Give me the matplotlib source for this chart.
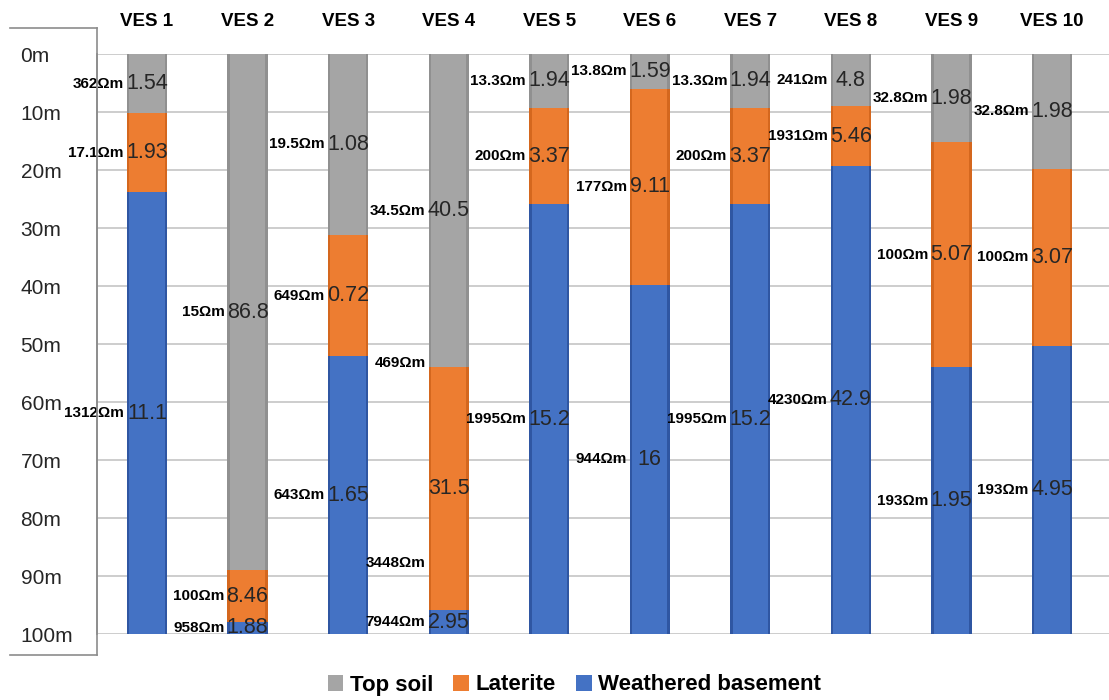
import matplotlib.pyplot as plt
from matplotlib.patches import Patch
from matplotlib.lines import Line2D
import numpy as np

plt.rcParams['font.family'] = ['Liberation Sans', 'DejaVu Sans']

# VES soundings, layer thickness in metres as drawn (top soil, laterite, weathered basement)
stations = ['VES 1', 'VES 2', 'VES 3', 'VES 4', 'VES 5', 'VES 6', 'VES 7', 'VES 8', 'VES 9', 'VES 10']
top_soil = [10.2, 89.0, 31.2, 54.0, 9.3, 6.0, 9.3, 9.0, 15.2, 19.8]
laterite = [13.6, 8.9, 20.9, 41.9, 16.6, 33.8, 16.6, 10.3, 38.8, 30.5]
basement = [76.2, 2.1, 47.9, 4.1, 74.1, 60.2, 74.1, 80.7, 46.0, 49.7]

# resistivity / thickness annotations for each layer
top_res = ['362Ωm', '15Ωm', '19.5Ωm', '34.5Ωm', '13.3Ωm', '13.8Ωm', '13.3Ωm', '241Ωm', '32.8Ωm', '32.8Ωm']
top_thk = ['1.54', '86.8', '1.08', '40.5', '1.94', '1.59', '1.94', '4.8', '1.98', '1.98']
lat_res = ['17.1Ωm', '100Ωm', '649Ωm', '469Ωm', '200Ωm', '177Ωm', '200Ωm', '1931Ωm', '100Ωm', '100Ωm']
lat_thk = ['1.93', '8.46', '0.72', '31.5', '3.37', '9.11', '3.37', '5.46', '5.07', '3.07']
base_res = ['1312Ωm', '958Ωm', '643Ωm', '7944Ωm', '1995Ωm', '944Ωm', '1995Ωm', '4230Ωm', '193Ωm', '193Ωm']
base_thk = ['11.1', '1.88', '1.65', '2.95', '15.2', '16', '15.2', '42.9', '1.95', '4.95']

depth_ticks = list(range(0, 101, 10))

# a couple of labels that sit away from the layer middle
res_depth_override = {('Laterite', 3): 53.3}
extra_res = [(3, 87.8, '3448Ωm')]

colors = {'Top soil': '#a5a5a5', 'Laterite': '#ed7d31', 'Weathered basement': '#4472c4'}
edges = {'Top soil': '#7f7f7f', 'Laterite': '#c0560f', 'Weathered basement': '#1f3f86'}

fig = plt.figure(figsize=(11.09, 7.0), dpi=100)
ax = fig.add_axes([97 / 1109, 66 / 700, 1 - 97 / 1109, 580 / 700])

x = np.arange(len(stations))
w = 0.40
layers = [('Top soil', top_soil, top_res, top_thk),
          ('Laterite', laterite, lat_res, lat_thk),
          ('Weathered basement', basement, base_res, base_thk)]

bottom = np.zeros(len(stations))
for name, vals, res, thk in layers:
    vals = np.array(vals)
    ax.bar(x, vals, w, bottom=bottom, color=colors[name], linewidth=0, zorder=3)
    # darker side edges give the bars a bevelled look
    for side in (-1, 1):
        ax.bar(x + side * (w / 2 - 0.012), vals, 0.024, bottom=bottom,
               color=edges[name], alpha=0.55, linewidth=0, zorder=4)
    mids = bottom + vals / 2
    for i in range(len(stations)):
        ax.text(x[i], mids[i], thk[i], ha='center', va='center',
                fontsize=15.5, color='#262626', zorder=6)
        ry = res_depth_override.get((name, i), mids[i])
        ax.text(x[i] - w / 2 - 0.03, ry, res[i], ha='right', va='center',
                fontsize=11, fontweight='bold', color='black', zorder=6)
    bottom = bottom + vals

for i, d, txt in extra_res:
    ax.text(x[i] - w / 2 - 0.03, d, txt, ha='right', va='center',
            fontsize=11, fontweight='bold', color='black', zorder=6)

ax.set_ylim(100, 0)
ax.set_xlim(-0.497, 9.567)
ax.set_yticks(depth_ticks)
ax.set_yticklabels([f'{d}m' for d in depth_ticks], ha='left')
ax.tick_params(axis='y', length=0, pad=55, labelsize=15, labelcolor='#262626')
ax.yaxis.grid(True, color='#c9c9c9', linewidth=1.3, zorder=0)
ax.set_axisbelow(True)

ax.xaxis.tick_top()
ax.set_xticks(x)
ax.set_xticklabels(stations, fontweight='bold', fontsize=13.5)
ax.tick_params(axis='x', length=0, pad=17)

for s in ('top', 'right', 'bottom'):
    ax.spines[s].set_visible(False)
ax.spines['left'].set_color('#8c8c8c')
ax.spines['left'].set_linewidth(1.2)
ax.spines['left'].set_bounds(100, 0)

# frame around the depth labels
fx = lambda px: px / 1109
fy = lambda py: 1 - py / 700
for xs, ys in [((10, 97), (28, 28)), ((97, 97), (28, 655)), ((10, 97), (655, 655))]:
    fig.add_artist(Line2D([fx(v) for v in xs], [fy(v) for v in ys],
                          color='#8c8c8c', linewidth=1.2))

handles = [Patch(facecolor=colors[n], edgecolor='none', label=n) for n in colors]
fig.legend(handles=handles, loc='center', bbox_to_anchor=(0.518, 1 - 685 / 700),
           ncol=3, frameon=False, handlelength=0.7, handleheight=0.7,
           handletextpad=0.3, columnspacing=0.9, prop={'weight': 'bold', 'size': 16})

fig.savefig('out.png', dpi=100)
